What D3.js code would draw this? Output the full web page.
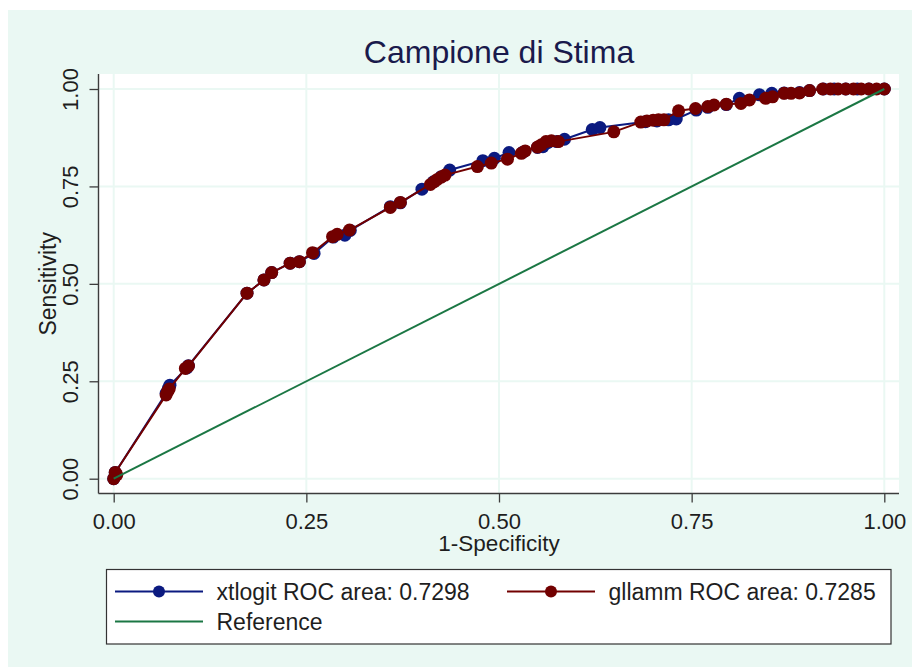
<!DOCTYPE html>
<html>
<head>
<meta charset="utf-8">
<script src="https://cdn.jsdelivr.net/npm/d3@7"></script>
<style>
  body { margin: 0; background: #ffffff; }
  svg { display: block; font-family: "Liberation Sans", Arial, Helvetica, sans-serif; }
</style>
</head>
<body>
<svg id="chart" width="912" height="667"></svg>
<script>
// ---- data -------------------------------------------------------------
const chartTitle = "Campione di Stima";
const xTitle = "1-Specificity";
const yTitle = "Sensitivity";
const tickValues = [0, 0.25, 0.5, 0.75, 1];

// [1-specificity, sensitivity] for each cut point
const xtlogitRoc = [
  [0, 0], [0.002, 0.016], [0.068, 0.219], [0.071, 0.232], [0.073, 0.240],
  [0.095, 0.284], [0.097, 0.290], [0.173, 0.476], [0.195, 0.510], [0.205, 0.529],
  [0.229, 0.553], [0.241, 0.557], [0.260, 0.578], [0.285, 0.620], [0.300, 0.625],
  [0.307, 0.637], [0.359, 0.698], [0.372, 0.708], [0.400, 0.743], [0.415, 0.762],
  [0.425, 0.775], [0.436, 0.792], [0.479, 0.816], [0.494, 0.822], [0.513, 0.837],
  [0.531, 0.838], [0.550, 0.850], [0.557, 0.852], [0.563, 0.862], [0.575, 0.865],
  [0.585, 0.871], [0.621, 0.896], [0.631, 0.901], [0.690, 0.916], [0.705, 0.918],
  [0.720, 0.921], [0.730, 0.923], [0.756, 0.946], [0.771, 0.953], [0.795, 0.960],
  [0.812, 0.976], [0.838, 0.985], [0.854, 0.989], [0.870, 0.990], [0.890, 0.991],
  [0.903, 0.996], [0.921, 1], [0.935, 1], [0.950, 1], [0.965, 1], [0.980, 1], [1, 1]
];

const gllammRoc = [
  [0, 0], [0.004, 0.010], [0.002, 0.016], [0.068, 0.215], [0.070, 0.224],
  [0.072, 0.230], [0.093, 0.283], [0.097, 0.289], [0.173, 0.476], [0.195, 0.510],
  [0.205, 0.529], [0.229, 0.553], [0.241, 0.557], [0.258, 0.580], [0.284, 0.621],
  [0.290, 0.627], [0.306, 0.638], [0.359, 0.696], [0.372, 0.709], [0.411, 0.755],
  [0.416, 0.762], [0.420, 0.768], [0.425, 0.774], [0.430, 0.779], [0.472, 0.801],
  [0.490, 0.810], [0.511, 0.820], [0.529, 0.835], [0.534, 0.841], [0.550, 0.851],
  [0.555, 0.857], [0.561, 0.865], [0.568, 0.867], [0.577, 0.865], [0.649, 0.890],
  [0.684, 0.915], [0.692, 0.918], [0.700, 0.920], [0.707, 0.921], [0.714, 0.921],
  [0.733, 0.944], [0.755, 0.950], [0.771, 0.955], [0.779, 0.959], [0.795, 0.961],
  [0.814, 0.963], [0.825, 0.972], [0.846, 0.976], [0.855, 0.980], [0.870, 0.989],
  [0.879, 0.989], [0.890, 0.990], [0.903, 0.996], [0.920, 1], [0.930, 1],
  [0.940, 1], [0.950, 1], [0.960, 1], [0.970, 1], [0.980, 1], [0.990, 1], [1, 1]
];

const referenceRoc = [[0, 0], [1, 1]];

const legendLabels = [
  "xtlogit ROC area: 0.7298",
  "gllamm ROC area: 0.7285",
  "Reference"
];

// ---- styles -----------------------------------------------------------
const colors = {
  outer: "#eaf8f3",
  plot: "#ffffff",
  grid: "#eaf8f3",
  axis: "#3c3c3c",
  text: "#1e1e1e",
  title: "#1a1a4c",
  xtlogit: "#0b1a80",
  gllamm: "#720000",
  reference: "#1b7744"
};

// ---- layout -----------------------------------------------------------
const svg = d3.select("#chart");
const region = { left: 98.5, right: 899, top: 74, bottom: 493.5 };

const x = d3.scaleLinear().domain([0, 1]).range([113.7, 884.3]);
const y = d3.scaleLinear().domain([0, 1]).range([478.7, 89]);

// background panels
svg.append("rect").attr("x", 8).attr("y", 10).attr("width", 904).attr("height", 657)
  .attr("fill", colors.outer);
svg.append("rect").attr("x", region.left).attr("y", region.top)
  .attr("width", region.right - region.left).attr("height", region.bottom - region.top)
  .attr("fill", colors.plot);

// grid lines
const grid = svg.append("g");
grid.selectAll("line.h").data(tickValues).join("line").attr("class", "h")
  .attr("x1", region.left).attr("x2", region.right)
  .attr("y1", d => y(d)).attr("y2", d => y(d))
  .attr("stroke", colors.grid).attr("stroke-width", 2);
grid.selectAll("line.v").data(tickValues).join("line").attr("class", "v")
  .attr("y1", region.top).attr("y2", region.bottom)
  .attr("x1", d => x(d)).attr("x2", d => x(d))
  .attr("stroke", colors.grid).attr("stroke-width", 2);

// axes
const fmt = d3.format(".2f");
const xAxis = svg.append("g").attr("transform", `translate(0,${region.bottom})`)
  .call(d3.axisBottom(x).tickValues(tickValues).tickFormat(fmt).tickSize(9).tickSizeOuter(0));
xAxis.select(".domain").remove();
xAxis.selectAll(".tick line").attr("stroke", colors.axis).attr("stroke-width", 1.3);
xAxis.selectAll(".tick text")
  .attr("y", 35).attr("dy", null)
  .attr("fill", colors.text).attr("font-size", 22)
  .attr("font-family", "Liberation Sans, Arial, sans-serif");

const yAxis = svg.append("g").attr("transform", `translate(${region.left},0)`)
  .call(d3.axisLeft(y).tickValues(tickValues).tickFormat(fmt).tickSize(9).tickSizeOuter(0));
yAxis.select(".domain").remove();
yAxis.selectAll(".tick line").attr("stroke", colors.axis).attr("stroke-width", 1.3);
yAxis.selectAll(".tick text")
  .attr("x", 0).attr("y", 0).attr("dy", null)
  .attr("text-anchor", "middle")
  .attr("transform", "translate(-20.5,0) rotate(-90)")
  .attr("fill", colors.text).attr("font-size", 22)
  .attr("font-family", "Liberation Sans, Arial, sans-serif");

// axis lines bounding the plot region
svg.append("line").attr("x1", region.left).attr("x2", region.left)
  .attr("y1", region.top).attr("y2", region.bottom)
  .attr("stroke", colors.axis).attr("stroke-width", 1.4);
svg.append("line").attr("x1", region.left).attr("x2", region.right)
  .attr("y1", region.bottom).attr("y2", region.bottom)
  .attr("stroke", colors.axis).attr("stroke-width", 1.4);

// titles
svg.append("text").attr("x", (x(0) + x(1)) / 2).attr("y", 62.5)
  .attr("text-anchor", "middle").attr("font-size", 32).attr("fill", colors.title)
  .text(chartTitle);
svg.append("text").attr("x", (x(0) + x(1)) / 2).attr("y", 550.5)
  .attr("text-anchor", "middle").attr("font-size", 22.5).attr("fill", colors.text)
  .text(xTitle);
svg.append("text").attr("transform", `translate(56,${(y(0) + y(1)) / 2}) rotate(-90)`)
  .attr("text-anchor", "middle").attr("font-size", 23).attr("fill", colors.text)
  .text(yTitle);

// ---- series -----------------------------------------------------------
const line = d3.line().x(d => x(d[0])).y(d => y(d[1]));
const R = 6.5;

function drawSeries(data, color) {
  const g = svg.append("g");
  g.append("path").datum(data).attr("d", line)
    .attr("fill", "none").attr("stroke", color).attr("stroke-width", 2)
    .attr("stroke-linejoin", "round");
  g.selectAll("circle").data(data).join("circle")
    .attr("cx", d => x(d[0])).attr("cy", d => y(d[1])).attr("r", R)
    .attr("fill", color);
}
drawSeries(xtlogitRoc, colors.xtlogit);
drawSeries(gllammRoc, colors.gllamm);

svg.append("path").datum(referenceRoc).attr("d", line)
  .attr("fill", "none").attr("stroke", colors.reference).attr("stroke-width", 2);

// ---- legend -----------------------------------------------------------
const legend = svg.append("g");
legend.append("rect").attr("x", 106.5).attr("y", 569.5).attr("width", 784.5).attr("height", 74.5)
  .attr("fill", "#ffffff").attr("stroke", "#333333").attr("stroke-width", 1.2);

const legendEntries = [
  { label: legendLabels[0], color: colors.xtlogit, marker: true, x0: 115, row: 591.5 },
  { label: legendLabels[1], color: colors.gllamm, marker: true, x0: 507, row: 591.5 },
  { label: legendLabels[2], color: colors.reference, marker: false, x0: 115, row: 621.5 }
];
const keyWidth = 88;
legendEntries.forEach(e => {
  legend.append("line").attr("x1", e.x0).attr("x2", e.x0 + keyWidth)
    .attr("y1", e.row).attr("y2", e.row)
    .attr("stroke", e.color).attr("stroke-width", 2);
  if (e.marker) {
    legend.append("circle").attr("cx", e.x0 + keyWidth / 2).attr("cy", e.row)
      .attr("r", 6).attr("fill", e.color);
  }
  legend.append("text").attr("x", e.x0 + keyWidth + 13.5).attr("y", e.row + 8)
    .attr("font-size", 23).attr("fill", colors.text).text(e.label);
});
</script>
</body>
</html>
